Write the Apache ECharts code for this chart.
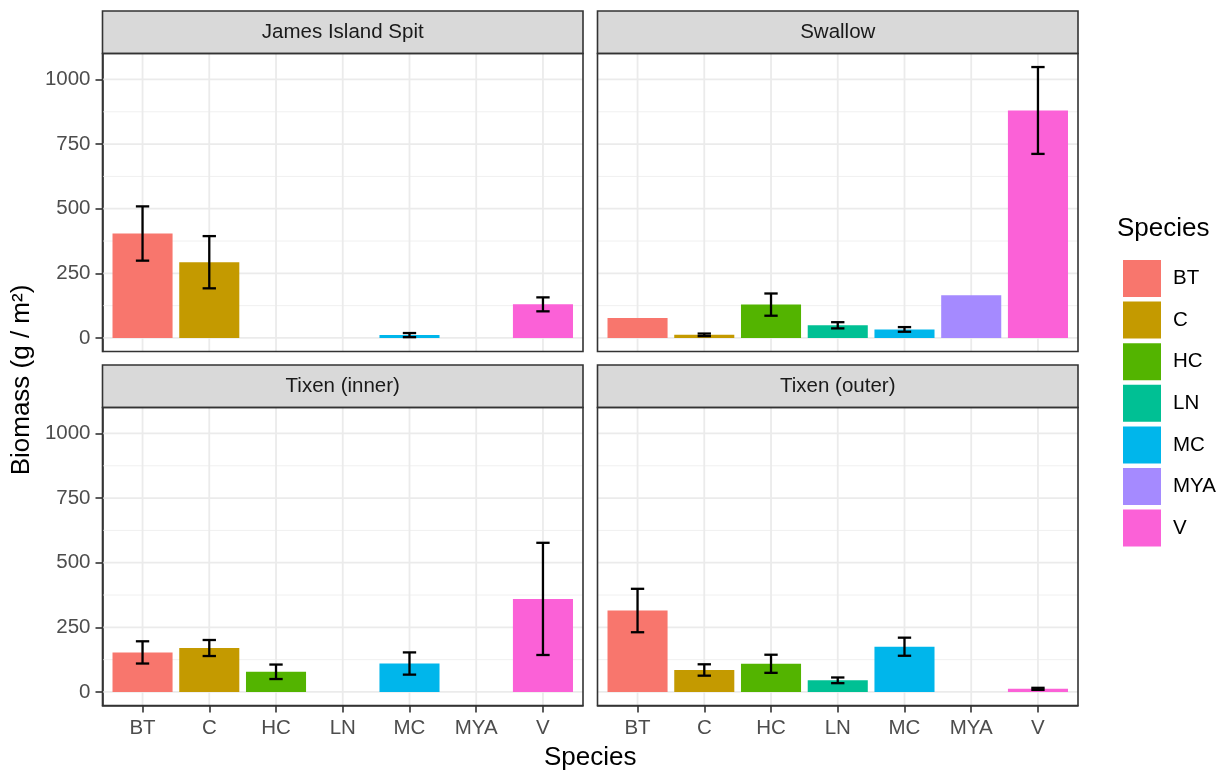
<!DOCTYPE html>
<html>
<head>
<meta charset="utf-8">
<script src="https://cdn.jsdelivr.net/npm/echarts@6/dist/echarts.min.js"></script>
<style>
html,body{margin:0;padding:0;background:#fff;}
#chart{width:1226px;height:772px;}
</style>
</head>
<body>
<div id="chart"></div>
<script>
// ---------- data ----------
const species = ['BT', 'C', 'HC', 'LN', 'MC', 'MYA', 'V'];
const sites = ['James Island Spit', 'Swallow', 'Tixen (inner)', 'Tixen (outer)'];
const speciesColors = ['#F8766D', '#C49A00', '#53B400', '#00C094', '#00B6EB', '#A58AFF', '#FB61D7'];

const jamesMean = [404, 293, null, null, 11, null, 130];
const jamesErr = [105, 101, null, null, 8, null, 27];
const swallowMean = [77, 12, 129, 49, 33, 165, 880];
const swallowErr = [null, 5, 43, 12, 9, null, 168];
const tixenInnerMean = [153, 170, 78, null, 110, null, 360];
const tixenInnerErr = [43, 31, 28, null, 43, null, 217];
const tixenOuterMean = [315, 85, 109, 45, 175, null, 12];
const tixenOuterErr = [84, 22, 35, 11, 35, null, 4];

const yBreaks = [0, 250, 500, 750, 1000];
const yMinorBreaks = [125, 375, 625, 875];

const means = [jamesMean, swallowMean, tixenInnerMean, tixenOuterMean];
const errs = [jamesErr, swallowErr, tixenInnerErr, tixenOuterErr];

// ---------- layout ----------
const FONT = "'Liberation Sans', Arial, Helvetica, sans-serif";
const panelLeft = [102.5, 597.5];
const panelW = 480.5;
const stripTop = [11, 365];
const stripH = 42.5;
const panelH = 298;
const panels = [];
for (let r = 0; r < 2; r++) for (let c = 0; c < 2; c++) {
  panels.push({ left: panelLeft[c], top: stripTop[r] + stripH, row: r, col: c });
}

// y extent like ggplot (5% expansion)
let yMaxData = 0;
means.forEach((m, p) => m.forEach((v, i) => {
  if (v != null) yMaxData = Math.max(yMaxData, v + (errs[p][i] || 0));
}));
const yPad = yMaxData * 0.05;
const yMin = -yPad, yMax = yMaxData + yPad;
const xMin = 0.4, xMax = species.length + 0.6;
const xPositions = species.map((s, i) => i + 1);

const grids = [], xAxes = [], yAxes = [], series = [], graphics = [];

panels.forEach((pn, p) => {
  grids.push({ left: pn.left, top: pn.top, width: panelW, height: panelH, containLabel: false });
  const bottomRow = pn.row === 1, leftCol = pn.col === 0;
  xAxes.push({
    gridIndex: p, type: 'value', min: xMin, max: xMax,
    splitLine: { show: false },
    axisLine: { show: bottomRow, onZero: false, lineStyle: { color: '#333333', width: 1.6 } },
    axisTick: { show: bottomRow, customValues: xPositions, length: 7, lineStyle: { color: '#333333', width: 1.6 } },
    axisLabel: {
      show: bottomRow, customValues: xPositions, margin: 12,
      formatter: v => species[Math.round(v) - 1] || '',
      color: '#4D4D4D', fontSize: 20.5, fontFamily: FONT
    }
  });
  yAxes.push({
    gridIndex: p, type: 'value', min: yMin, max: yMax,
    splitLine: { show: false },
    axisLine: { show: leftCol, onZero: false, lineStyle: { color: '#333333', width: 1.6 } },
    axisTick: { show: leftCol, customValues: yBreaks, length: 7, lineStyle: { color: '#333333', width: 1.6 } },
    axisLabel: {
      show: leftCol, customValues: yBreaks, margin: 12,
      formatter: v => String(Math.round(v)),
      color: '#4D4D4D', fontSize: 20.5, fontFamily: FONT
    }
  });

  // grid lines
  const gridData = [];
  yBreaks.forEach(v => gridData.push([4, v, 0]));
  yMinorBreaks.forEach(v => gridData.push([4, v, 1]));
  xPositions.forEach(x => gridData.push([x, 500, 2]));
  series.push({
    type: 'custom', xAxisIndex: p, yAxisIndex: p, silent: true, z: 1,
    data: gridData,
    renderItem: (params, api) => {
      const kind = api.value(2);
      if (kind === 2) {
        const a = api.coord([api.value(0), yMin]);
        const b = api.coord([api.value(0), yMax]);
        return { type: 'line', shape: { x1: a[0], y1: a[1], x2: b[0], y2: b[1] }, style: { stroke: '#EBEBEB', lineWidth: 1.8 } };
      }
      const a = api.coord([xMin, api.value(1)]);
      const b = api.coord([xMax, api.value(1)]);
      return { type: 'line', shape: { x1: a[0], y1: a[1], x2: b[0], y2: b[1] },
        style: { stroke: kind === 0 ? '#EBEBEB' : '#F0F0F0', lineWidth: kind === 0 ? 1.8 : 1 } };
    }
  });

  // bars
  species.forEach((s, i) => {
    const v = means[p][i];
    series.push({
      type: 'custom', name: s, xAxisIndex: p, yAxisIndex: p, z: 3,
      itemStyle: { color: speciesColors[i] },
      data: v == null ? [] : [[i + 1, v]],
      renderItem: (params, api) => {
        const x = api.value(0), y = api.value(1);
        const a = api.coord([x - 0.45, 0]);
        const b = api.coord([x + 0.45, y]);
        return { type: 'rect', shape: { x: a[0], y: b[1], width: b[0] - a[0], height: a[1] - b[1] },
          style: { fill: api.visual('color') } };
      }
    });
  });

  // error bars
  const errData = [];
  species.forEach((s, i) => {
    if (means[p][i] != null && errs[p][i] != null) errData.push([i + 1, means[p][i], errs[p][i]]);
  });
  series.push({
    type: 'custom', xAxisIndex: p, yAxisIndex: p, z: 4, silent: true,
    data: errData,
    renderItem: (params, api) => {
      const x = api.value(0), m = api.value(1), e = api.value(2);
      const t = api.coord([x, m + e]), bt = api.coord([x, m - e]);
      const l = api.coord([x - 0.1, m])[0], r = api.coord([x + 0.1, m])[0];
      const st = { stroke: '#000', lineWidth: 2.3 };
      return { type: 'group', children: [
        { type: 'line', shape: { x1: t[0], y1: t[1], x2: bt[0], y2: bt[1] }, style: st },
        { type: 'line', shape: { x1: l, y1: t[1], x2: r, y2: t[1] }, style: st },
        { type: 'line', shape: { x1: l, y1: bt[1], x2: r, y2: bt[1] }, style: st }
      ] };
    }
  });

  // strip + border
  graphics.push({
    type: 'rect', z: 100,
    shape: { x: pn.left, y: stripTop[pn.row], width: panelW, height: stripH },
    style: { fill: '#D9D9D9', stroke: '#333333', lineWidth: 1.6 }
  });
  graphics.push({
    type: 'text', z: 101,
    x: pn.left + panelW / 2, y: stripTop[pn.row] + stripH / 2,
    style: { text: sites[p], fill: '#1A1A1A', font: '20.5px ' + FONT, textAlign: 'center', textVerticalAlign: 'middle' }
  });
  graphics.push({
    type: 'rect', z: 100,
    shape: { x: pn.left, y: pn.top, width: panelW, height: panelH },
    style: { fill: 'transparent', stroke: '#333333', lineWidth: 1.6 }
  });
});

// axis titles + legend title
graphics.push({
  type: 'text', z: 101, x: panelLeft[0] + (panelLeft[1] + panelW - panelLeft[0]) / 2, y: 758,
  style: { text: 'Species', fill: '#000', font: '26px ' + FONT, textAlign: 'center', textVerticalAlign: 'middle' }
});
graphics.push({
  type: 'text', z: 101, x: 22, y: 380, rotation: Math.PI / 2,
  style: { text: 'Biomass (g / m²)', fill: '#000', font: '26px ' + FONT, textAlign: 'center', textVerticalAlign: 'middle' }
});
graphics.push({
  type: 'text', z: 101, x: 1117, y: 229,
  style: { text: 'Species', fill: '#000', font: '26px ' + FONT, textAlign: 'left', textVerticalAlign: 'middle' }
});

const chart = echarts.init(document.getElementById('chart'), null, { renderer: 'canvas' });
chart.setOption({
  animation: false,
  backgroundColor: '#ffffff',
  grid: grids,
  xAxis: xAxes,
  yAxis: yAxes,
  legend: {
    data: species, orient: 'vertical', left: 1118, top: 255,
    icon: 'rect', itemWidth: 38, itemHeight: 37, itemGap: 4.6,
    selectedMode: false,
    textStyle: { fontSize: 20.5, color: '#000', fontFamily: FONT, padding: [0, 0, 0, 7] }
  },
  graphic: graphics,
  series: series
});
</script>
</body>
</html>
